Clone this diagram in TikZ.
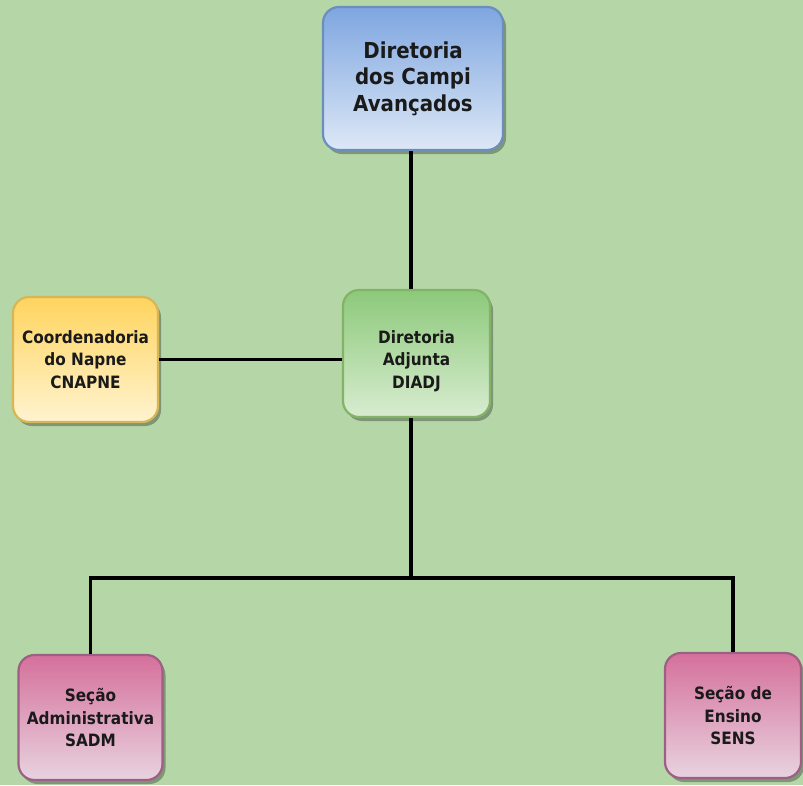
\documentclass[tikz,border=0pt]{standalone}
\usepackage{fontspec}
\setmainfont{DejaVu Sans Condensed}
\usetikzlibrary{shadows}
\definecolor{bg}{HTML}{B5D7A8}
\definecolor{blueT}{HTML}{7EA6E0}
\definecolor{blueB}{HTML}{DDE8F6}
\definecolor{blueD}{HTML}{6C8EBF}
\definecolor{greenT}{HTML}{8CC97A}
\definecolor{greenB}{HTML}{D8ECD0}
\definecolor{greenD}{HTML}{82B366}
\definecolor{yelT}{HTML}{FFD45E}
\definecolor{yelB}{HTML}{FFF3D0}
\definecolor{yelD}{HTML}{D6B656}
\definecolor{pinkT}{HTML}{D5709B}
\definecolor{pinkB}{HTML}{E8D3E0}
\definecolor{pinkD}{HTML}{9E5F85}
\definecolor{txt}{HTML}{1A1A1A}
\tikzset{
  boxtext/.style={align=center, inner sep=0pt, text=txt, font=\bfseries\fontsize{17}{22.5}\selectfont},
  box/.style={rectangle, rounded corners=16pt, line width=2.2pt, boxtext,
    drop shadow={shadow xshift=3pt, shadow yshift=-4pt, fill=black, opacity=0.3}},
  bluebox/.style={box, draw=blueD, top color=blueT, bottom color=blueB,
    minimum width=180pt, minimum height=143pt, font=\bfseries\fontsize{22}{26.5}\selectfont},
  greenbox/.style={box, draw=greenD, top color=greenT, bottom color=greenB,
    minimum width=147pt, minimum height=127pt},
  yelbox/.style={box, draw=yelD, top color=yelT, bottom color=yelB,
    minimum width=145pt, minimum height=125pt},
  pinkbox/.style={box, draw=pinkD, top color=pinkT, bottom color=pinkB,
    minimum width=144pt, minimum height=125pt},
  conn/.style={line width=3.8pt, black}
}
\begin{document}
\begin{tikzpicture}[x=1pt,y=-1pt]
\fill[bg] (0,0) rectangle (803,785);
\useasboundingbox (0,0) rectangle (803,785);
\node[bluebox] (dca) at (413,78.5) {Diretoria\\dos Campi\\Avançados};
\node[greenbox] (diadj) at (416.5,353.5) {};
\node[boxtext] (diadjtxt) at (416.5,361) {Diretoria\\Adjunta\\DIADJ};
\node[yelbox] (cnapne) at (85.5,359.5) {Coordenadoria\\do Napne\\CNAPNE};
\node[pinkbox] (sadm) at (90.5,717.5) {Seção\\Administrativa\\SADM};
\node[pinkbox, minimum width=136pt] (sens) at (733,715.5) {Seção de\\Ensino\\SENS};
\coordinate (junc) at (411,578);
\draw[conn] (dca.south -| junc) -- (diadj.north -| junc);
\draw[conn] (cnapne.east) -- (diadj.west |- cnapne.east);
\draw[conn] (diadj.south -| junc) -- (junc);
\draw[conn] (junc) -| (sadm.north);
\draw[conn] (junc) -| (sens.north);
\end{tikzpicture}
\end{document}
